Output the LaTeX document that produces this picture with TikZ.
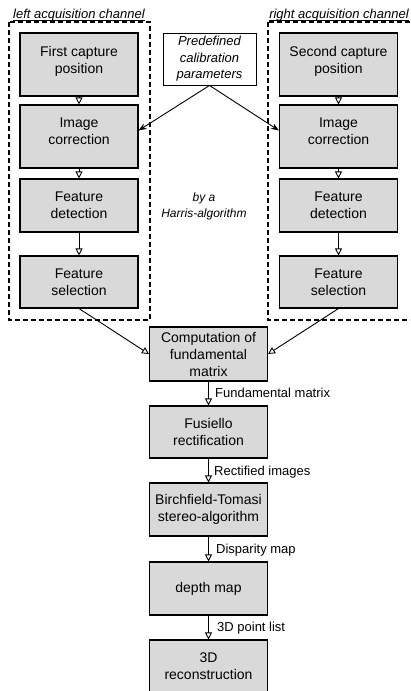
\documentclass[tikz,border=0pt]{standalone}
\usepackage{fontspec}
\setmainfont{Liberation Sans}
\usetikzlibrary{arrows.meta}
\definecolor{boxgray}{HTML}{D9D9D9}
\newcommand{\liftpad}{\\[-7pt]\mbox{}}
\tikzset{
  procbox/.style={draw=black, line width=1.1pt, fill=boxgray, align=center,
    minimum width=118pt, inner sep=0pt,
    font=\fontsize{14}{17}\selectfont},
  notebox/.style={draw=black, line width=0.9pt, fill=white, align=center,
    minimum width=93pt, minimum height=52pt, inner sep=0pt,
    font=\fontsize{13}{16.5}\selectfont\itshape},
  channel/.style={draw=black, line width=1.4pt, dash pattern=on 5pt off 3pt},
  flow/.style={draw=black, line width=0.9pt, -{Triangle[open, length=7pt, width=7pt]}},
  calib/.style={draw=black, line width=0.9pt, -{Stealth[length=8pt, width=6pt]}},
  elabel/.style={anchor=west, inner sep=0pt, font=\fontsize{13}{15}\selectfont},
  chlabel/.style={anchor=base, inner sep=0pt, font=\fontsize{13}{15}\selectfont\itshape},
  uline/.style={draw=black, line width=0.7pt},
  notetext/.style={align=center, inner sep=0pt, font=\fontsize{12}{16}\selectfont\itshape}
}
\begin{document}
\begin{tikzpicture}[x=1pt, y=-1pt]
\clip (0,0) rectangle (410,691);
\fill[white] (0,0) rectangle (410,691);

% channels
\draw[channel] (9,22) rectangle (150,320);
\draw[channel] (268,22) rectangle (425,320);
\node[chlabel] (lcl) at (79,18.5) {left acquisition channel};
\node[chlabel] (rcl) at (339,18.5) {right acquisition channel};
\draw[uline] ([yshift=-1.6pt]lcl.base west) -- ([yshift=-1.6pt]lcl.base east);
\draw[uline] ([yshift=-1.6pt]rcl.base west) -- ([yshift=-1.6pt]rcl.base east);

% left column
\node[procbox, minimum height=63pt] (fc1) at (79,64.5) {First capture\\position\liftpad};
\node[procbox, minimum height=63pt] (ic1) at (79,136.5) {Image\\correction\liftpad};
\node[procbox, minimum height=53pt] (fd1) at (79,205.5) {Feature\\detection};
\node[procbox, minimum height=52pt] (fs1) at (79,282) {Feature\\selection};

% right column
\node[procbox, minimum height=63pt] (fc2) at (338.5,64.5) {Second capture\\position\liftpad};
\node[procbox, minimum height=63pt] (ic2) at (338.5,136.5) {Image\\correction\liftpad};
\node[procbox, minimum height=53pt] (fd2) at (338.5,205.5) {Feature\\detection};
\node[procbox, minimum height=52pt] (fs2) at (338.5,282) {Feature\\selection};

% calibration
\node[notebox] (cal) at (209.5,59) {Predefined\\calibration\\parameters};
\node[notetext] (harris) at (204,206) {by a\\Harris-algorithm};

% center column
\node[procbox, minimum height=54pt] (comp) at (208.5,354) {Computation of\\fundamental\\matrix};
\node[procbox, minimum height=52pt] (fus) at (208.5,432) {Fusiello\\rectification};
\node[procbox, minimum height=53pt] (bir) at (208.5,509.5) {Birchfield-Tomasi\\stereo-algorithm};
\node[procbox, minimum height=53pt] (dep) at (208.5,588.5) {depth map};
\node[procbox, minimum height=53pt] (rec) at (208.5,666.5) {3D\\reconstruction};

% flows
\draw[flow] (fc1) -- (ic1);
\draw[flow] (ic1) -- (fd1);
\draw[flow] (fd1) -- (fs1);
\draw[flow] (fc2) -- (ic2);
\draw[flow] (ic2) -- (fd2);
\draw[flow] (fd2) -- (fs2);
\draw[calib] (cal.south) -- ([yshift=6pt]ic1.east);
\draw[calib] (cal.south) -- ([yshift=6pt]ic2.west);
\draw[flow] (fs1.south) -- (comp.west);
\draw[flow] (fs2.south) -- (comp.east);
\draw[flow] (comp) -- (fus);
\draw[flow] (fus) -- (bir);
\draw[flow] (bir) -- (dep);
\draw[flow] (dep) -- (rec);

% edge labels
\node[elabel] (l1) at (215,393) {Fundamental matrix};
\node[elabel] (l2) at (214,472) {Rectified images};
\node[elabel] (l3) at (216,550) {Disparity map};
\node[elabel] (l4) at (217,628) {3D point list};
\end{tikzpicture}
\end{document}
